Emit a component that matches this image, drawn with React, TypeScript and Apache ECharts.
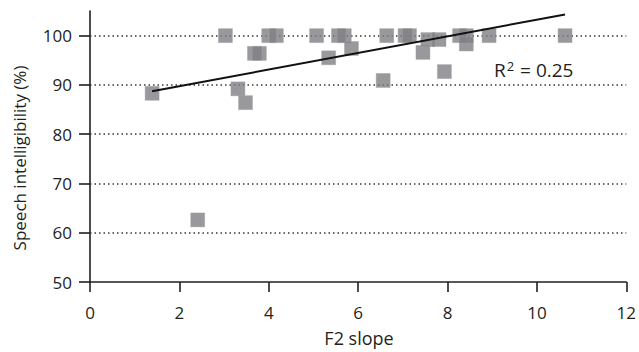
import React, { useEffect, useRef } from "react";
import * as echarts from "echarts";

const slopeX = [1.39, 2.41, 3.03, 3.31, 3.48, 3.68, 3.79, 4.0, 4.17, 5.07, 5.34, 5.56, 5.69, 5.85, 6.56, 6.64, 7.05, 7.15, 7.45, 7.56, 7.81, 7.93, 8.27, 8.42, 8.42, 8.93, 10.63];
const intelligibility = [88.3, 62.6, 100, 89.2, 86.4, 96.4, 96.4, 100, 100, 100, 95.5, 100, 100, 97.4, 90.9, 100, 100, 100, 96.6, 99.2, 99.2, 92.7, 100, 100, 98.3, 100, 100];
const trendX = [1.39, 10.63];
const trendY = [88.7, 104.3];
const yTickValues = [50, 60, 70, 80, 90, 100];
const gridValues = [60, 70, 80, 90, 100];

const FONT = "'Open Sans', 'Noto Sans', sans-serif";
const INK = "#231f20";

export default function App() {
  const ref = useRef<HTMLDivElement>(null);
  useEffect(() => {
    document.body.style.margin = "0";
    const chart = echarts.init(ref.current!, null, { renderer: "svg" });
    chart.setOption({
      animation: false,
      backgroundColor: "#ffffff",
      grid: { left: 90, right: 12, top: 11, bottom: 70 },
      xAxis: {
        type: "value",
        min: 0,
        max: 12,
        interval: 2,
        axisLine: { show: true, onZero: false, lineStyle: { color: INK, width: 1.6 } },
        axisTick: { show: true, length: 10, lineStyle: { color: INK, width: 1.6 } },
        axisLabel: { margin: 22, fontSize: 17, color: INK, fontFamily: FONT },
        splitLine: { show: false },
      },
      yAxis: {
        type: "value",
        min: 50,
        max: 105,
        axisLine: { show: true, onZero: false, lineStyle: { color: INK, width: 1.6 } },
        axisTick: { show: true, length: 11, customValues: yTickValues, lineStyle: { color: INK, width: 1.6 } },
        axisLabel: { margin: 18, fontSize: 17, color: INK, fontFamily: FONT, customValues: yTickValues },
        splitLine: { show: false },
      },
      graphic: [
        {
          type: "text",
          x: 19,
          y: 158,
          rotation: Math.PI / 2,
          style: {
            text: "Speech intelligibility (%)",
            fontSize: 17,
            fontFamily: FONT,
            fill: INK,
            align: "center",
            verticalAlign: "middle",
          },
        },
        {
          type: "text",
          x: 359,
          y: 338,
          style: {
            text: "F2 slope",
            fontSize: 18,
            fontFamily: FONT,
            fill: INK,
            align: "center",
            verticalAlign: "middle",
          },
        },
        {
          type: "text",
          x: 494,
          y: 69,
          style: {
            text: "{r|R}{s|2}{r| = 0.25}",
            fontFamily: FONT,
            fill: INK,
            align: "left",
            verticalAlign: "middle",
            rich: {
              r: { fontSize: 19, fontFamily: FONT, fill: INK, verticalAlign: "bottom" },
              s: { fontSize: 13, fontFamily: FONT, fill: INK, verticalAlign: "top", padding: [0, 1, 7, 1] },
            },
          },
        },
      ],
      series: [
        {
          type: "scatter",
          symbol: "rect",
          symbolSize: 14,
          z: 2,
          itemStyle: { color: "#7f7f85", borderColor: "#a0a0a4", borderWidth: 0.5 },
          data: slopeX.map((x, i) => [x, intelligibility[i]]),
          markLine: {
            silent: true,
            symbol: "none",
            label: { show: false },
            lineStyle: { color: "#3f3330", type: [1.5, 3], width: 1.5 },
            data: gridValues.map((v) => ({ yAxis: v })),
            z: 1,
          },
        },
        {
          type: "line",
          z: 3,
          symbol: "none",
          lineStyle: { color: "#111", width: 2 },
          data: trendX.map((x, i) => [x, trendY[i]]),
        },
      ],
    });
    return () => chart.dispose();
  }, []);
  return <div ref={ref} style={{ width: 639, height: 352, position: "fixed", left: 0, top: 0 }} />;
}
